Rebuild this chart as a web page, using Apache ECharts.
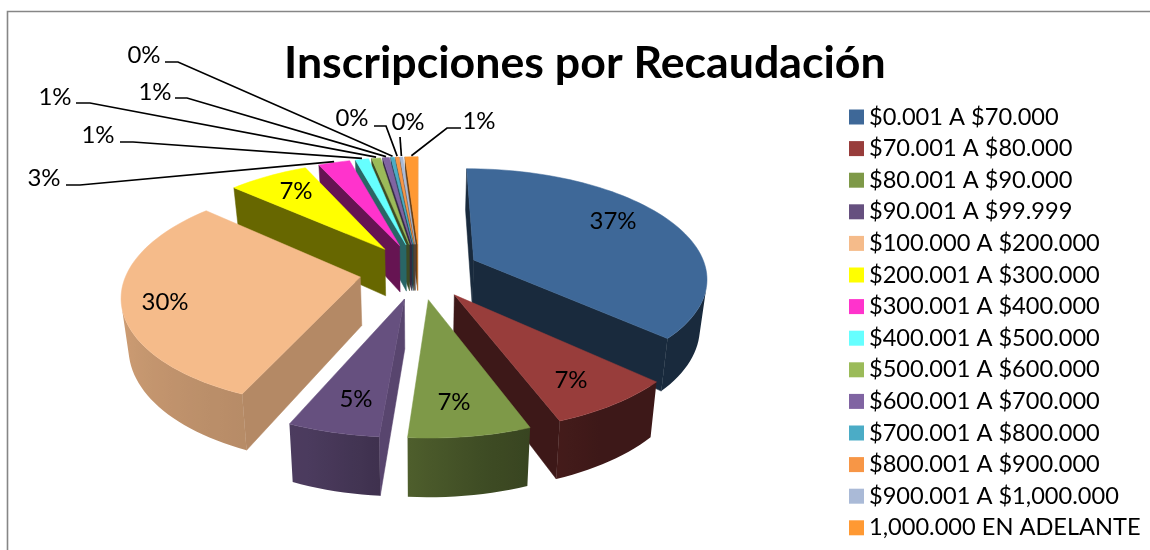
<!DOCTYPE html>
<html><head><meta charset="utf-8">
<style>html,body{margin:0;padding:0;background:#fff}#c{width:1150px;height:550px}</style>
<script src="https://cdn.jsdelivr.net/npm/echarts@6/dist/echarts.min.js"></script>
</head><body><div id="c"></div>
<script>
// ---- data ----
var categories = ['$0.001 A $70.000','$70.001 A $80.000','$80.001 A $90.000','$90.001 A $99.999','$100.000 A $200.000','$200.001 A $300.000','$300.001 A $400.000','$400.001 A $500.000','$500.001 A $600.000','$600.001 A $700.000','$700.001 A $800.000','$800.001 A $900.000','$900.001 A $1,000.000','1,000.000 EN ADELANTE'];
var shares = [37.0, 7.47, 7.03, 5.3, 30.2, 6.6, 2.6, 1.1, 0.75, 0.55, 0.3, 0.3, 0.25, 1.05];
var colors = ['#3E6898','#983D3B','#7E9948','#66507F','#F5BB8A','#FFFF00','#FF33CC','#66FFFF','#9BBB59','#8064A2','#4BACC6','#F79646','#AABAD7','#FF9933'];
// ---- label layout (text centre, optional leader anchor and elbow) ----
var labelLayout = [
 {c:[613,221]},{c:[571,380]},{c:[454,402]},{c:[356,399]},{c:[165,302]},{c:[296,191]},
 {c:[44,178],a:[66,185],e:[80,185]},
 {c:[98,135],a:[120,142],e:[133,142]},
 {c:[55,97],a:[76,103],e:[90,103]},
 {c:[155,92],a:[175,98],e:[187,98]},
 {c:[144,55],a:[165,62],e:[178,62]},
 {c:[352,118],a:[374,126],e:[386,126]},
 {c:[408,122],a:[400,137],e:[400,137]},
 {c:[479,121],a:[461,128],e:[447,128]}
];
// ---- 3D pie projection ----
var CX=419.5, CY=271, SX=233, K=108, P=0.15, EXPLODE=0.258, DEPTH=48, BOTTOM=0.975;
var total = shares.reduce(function(a,b){return a+b;},0);
var slices=[], acc=0;
shares.forEach(function(v,i){
  var s=acc/total*2*Math.PI; acc+=v; var e=acc/total*2*Math.PI; var m=(s+e)/2;
  slices.push({i:i,s:s,e:e,m:m,eu:EXPLODE*Math.sin(m),ev:EXPLODE*Math.cos(m)});
});
function proj(u,v,low){
  var sc=1/(1+P*v), x=SX*u*sc, y=-K*v*sc;
  if(low){ return [CX+x*BOTTOM, CY+y+DEPTH*sc]; }
  return [CX+x, CY+y];
}
function pt(sl,a,r,low){ return proj(sl.eu+r*Math.sin(a), sl.ev+r*Math.cos(a), low); }
function mix(hex,f){
  var n=parseInt(hex.slice(1),16);
  return 'rgb('+Math.round((n>>16&255)*f)+','+Math.round((n>>8&255)*f)+','+Math.round((n&255)*f)+')';
}
function interp(tbl,deg){
  deg=(deg%360+360)%360;
  for(var i=1;i<tbl.length;i++){ if(deg<=tbl[i][0]){
    var a=tbl[i-1],b=tbl[i]; return a[1]+(b[1]-a[1])*(deg-a[0])/(b[0]-a[0]); } }
  return tbl[tbl.length-1][1];
}
var arcShade=[[0,.4],[150,.4],[170,.5],[185,.62],[200,.74],[270,.87],[320,.6],[360,.4]];
var faceShade=[[0,.4],[60,.4],[94,.87],[112,.74],[150,.55],[223,.4],[360,.4]];
function area(p){var a=0;for(var i=0;i<p.length;i++){var q=p[(i+1)%p.length];a+=p[i][0]*q[1]-q[0]*p[i][1];}return a/2;}
function poly(pts,fill){return {type:'polygon',silent:true,shape:{points:pts},style:{fill:fill,stroke:fill,lineWidth:0.5}};}
function renderSlice(params,api){
  var sl=slices[api.value(0)], col=colors[sl.i], kids=[];
  var tipT=proj(sl.eu,sl.ev,false), tipB=proj(sl.eu,sl.ev,true);
  var a1=pt(sl,sl.s,1,false), b1=pt(sl,sl.s,1,true), a2=pt(sl,sl.e,1,false), b2=pt(sl,sl.e,1,true);
  var f1=[tipT,a1,b1,tipB], f2=[tipT,tipB,b2,a2];
  if(area(f1)<0) kids.push(poly(f1,mix(col,interp(faceShade,sl.s*180/Math.PI-90))));
  if(area(f2)<0) kids.push(poly(f2,mix(col,interp(faceShade,sl.e*180/Math.PI+90))));
  // outer wall: the part turned towards the viewer, one polygon with a horizontal gradient
  var n=Math.max(2,Math.ceil((sl.e-sl.s)/(2*Math.PI/180)));
  var upper=[],lower=[],stops=[];
  for(var j=0;j<n;j++){
    var t0=sl.s+(sl.e-sl.s)*j/n, t1=sl.s+(sl.e-sl.s)*(j+1)/n;
    var q=[pt(sl,t0,1,false),pt(sl,t1,1,false),pt(sl,t1,1,true),pt(sl,t0,1,true)];
    if(area(q)<0){
      if(!upper.length){ upper.push(q[0]); lower.push(q[3]); stops.push([q[0][0],t0]); }
      upper.push(q[1]); lower.push(q[2]); stops.push([q[1][0],t1]);
    }
  }
  if(upper.length){
    var xs=stops.map(function(s){return s[0];}), xa=Math.min.apply(null,xs), xb=Math.max.apply(null,xs), w=Math.max(xb-xa,0.01);
    var cs=stops.map(function(s){return {offset:(s[0]-xa)/w,color:mix(col,interp(arcShade,s[1]*180/Math.PI))};})
      .sort(function(a,b){return a.offset-b.offset;});
    var g={type:'linear',global:true,x:xa,y:0,x2:xa+w,y2:0,colorStops:cs};
    kids.push({type:'polygon',silent:true,shape:{points:upper.concat(lower.reverse())},style:{fill:g}});
  }
  // top
  var top=[tipT];
  for(var j=0;j<=n;j++){ top.push(pt(sl,sl.s+(sl.e-sl.s)*j/n,1,false)); }
  kids.push(poly(top,col));
  return {type:'group',children:kids};
}
function renderLabel(params,api){
  var i=api.value(0), l=labelLayout[i], sl=slices[i], kids=[];
  if(l.a){
    var end=pt(sl,sl.m,1.0,false); end=[end[0],end[1]-1];
    kids.push({type:'polyline',silent:true,shape:{points:[l.a,l.e,end]},style:{stroke:'#000',lineWidth:1.7,fill:null}});
  }
  kids.push({type:'text',silent:true,style:{text:Math.round(shares[i]/total*100)+'%',x:l.c[0],y:l.c[1],align:'center',verticalAlign:'middle',fontFamily:'Lato',fontSize:24,fill:'#000'}});
  return {type:'group',children:kids};
}
var order=slices.slice().sort(function(a,b){return b.ev-a.ev;});
var rank={}; order.forEach(function(s,r){rank[s.i]=r;});
var series=categories.map(function(name,i){
  return {type:'custom',name:name,coordinateSystem:'none',renderItem:renderSlice,data:[[i]],z:2+rank[i],itemStyle:{color:colors[i]},silent:true,animation:false};
});
series.push({type:'custom',name:'etiquetas',coordinateSystem:'none',renderItem:renderLabel,data:categories.map(function(c,i){return [i];}),z:30,silent:true,animation:false});
var chart=echarts.init(document.getElementById('c'),null,{renderer:'canvas'});
chart.setOption({
  animation:false,
  backgroundColor:'#fff',
  title:{text:'Inscripciones por Recaudación',left:279,top:36,textStyle:{fontFamily:'Lato',fontWeight:'bold',fontSize:44.7,color:'#000'}},
  legend:{orient:'vertical',left:844,top:100,icon:'rect',itemWidth:15,itemHeight:15,itemGap:7.6,data:categories,selectedMode:false,
    textStyle:{fontFamily:'Lato',fontSize:23.6,color:'#000',lineHeight:24}},
  graphic:[{type:'polyline',silent:true,shape:{points:[[7.5,560],[7.5,11.5],[1160,11.5]]},style:{stroke:'#868686',lineWidth:1.6,fill:null},z:1}],
  series:series
});
</script></body></html>
